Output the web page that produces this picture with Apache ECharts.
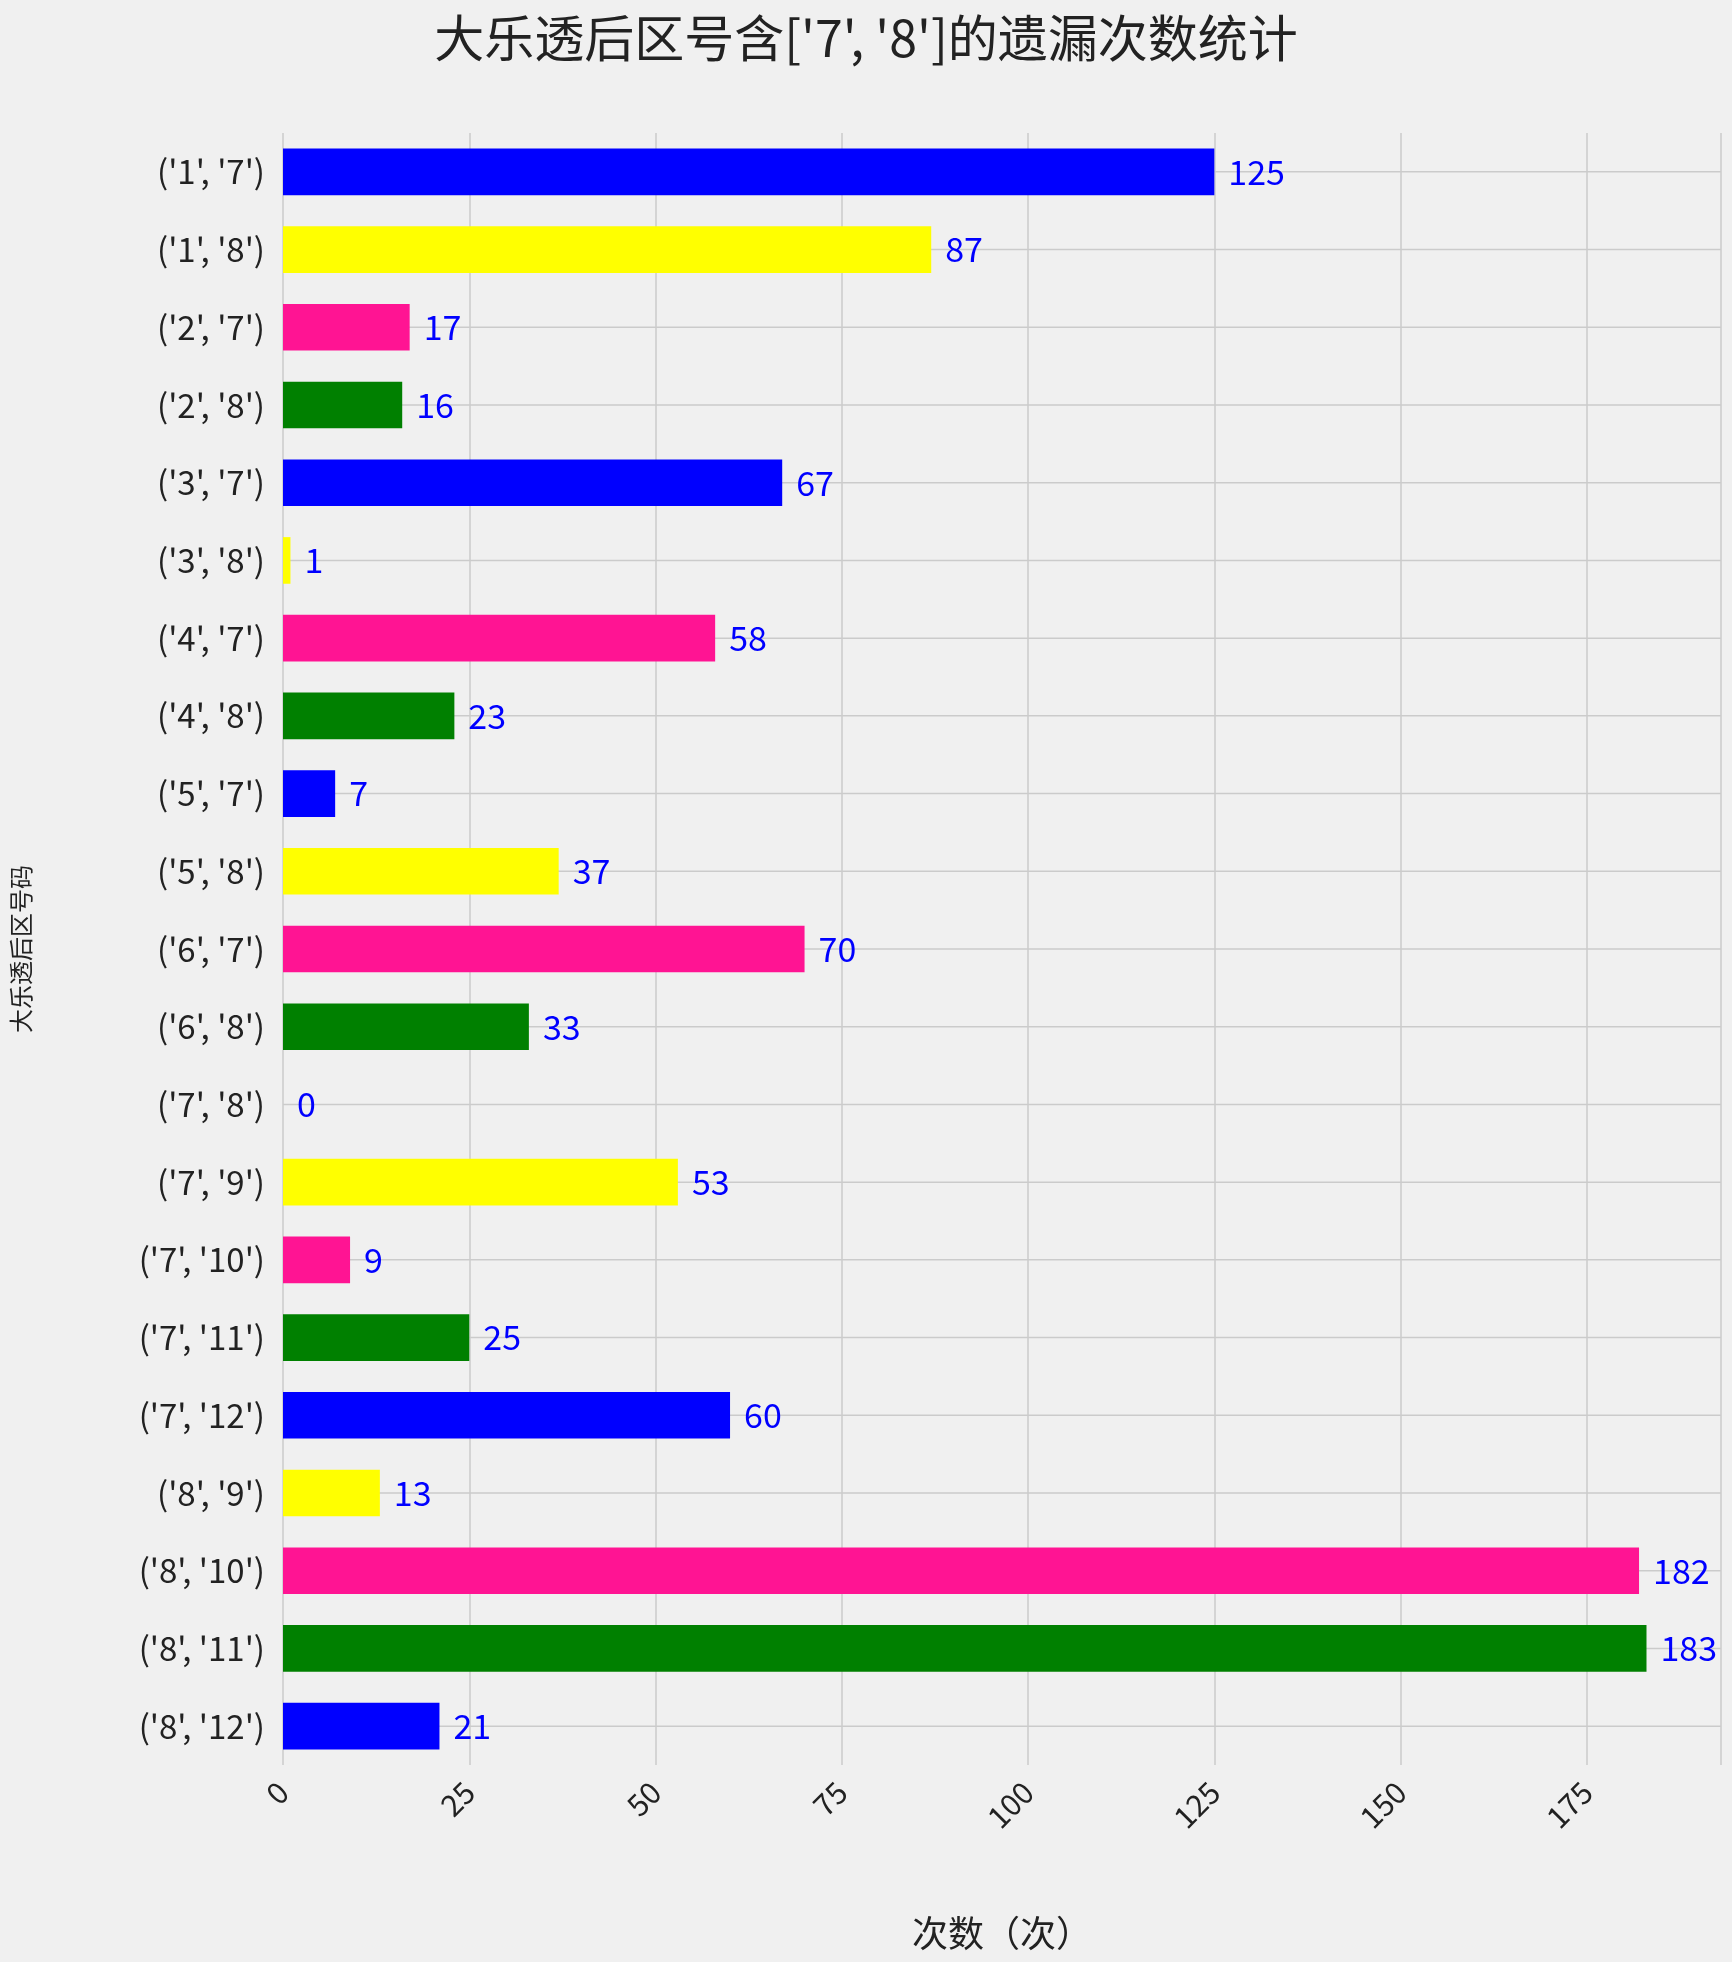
<!DOCTYPE html>
<html><head><meta charset="utf-8">
<script src="https://cdn.jsdelivr.net/npm/echarts@6/dist/echarts.min.js"></script>
<style>html,body{margin:0;padding:0;background:#f0f0f0}#c{width:1732px;height:1962px}</style>
</head><body><div id="c"></div>
<script>
const categories = ["('1', '7')","('1', '8')","('2', '7')","('2', '8')","('3', '7')","('3', '8')","('4', '7')","('4', '8')","('5', '7')","('5', '8')","('6', '7')","('6', '8')","('7', '8')","('7', '9')","('7', '10')","('7', '11')","('7', '12')","('8', '9')","('8', '10')","('8', '11')","('8', '12')"];
const values = [125,87,17,16,67,1,58,23,7,37,70,33,0,53,9,25,60,13,182,183,21];
const palette = ['#0000ff','#ffff00','#ff1493','#008000'];
const xTicks = [0,25,50,75,100,125,150,175];
const font = '"Noto Sans CJK SC", sans-serif';
const chart = echarts.init(document.getElementById('c'));
chart.setOption({
  backgroundColor:'#f0f0f0',
  animation:false,
  title:{text:"大乐透后区号含['7', '8']的遗漏次数统计",left:'center',top:8,textStyle:{fontFamily:font,fontSize:50,fontWeight:'normal',color:'#222'}},
  grid:{left:283,right:11,top:133,bottom:197},
  xAxis:{type:'value',min:0,max:193,interval:25,
    axisLine:{show:false},axisTick:{show:false},
    splitLine:{lineStyle:{color:'#cbcbcb',width:1.5}},
    axisLabel:{rotate:45,fontFamily:font,fontSize:30,color:'#222',margin:22,
      formatter:v=>xTicks.includes(v)?String(v):''},
    name:'次数（次）',nameLocation:'middle',nameGap:150,
    nameTextStyle:{fontFamily:font,fontSize:36,color:'#222'}},
  yAxis:{type:'category',data:categories,inverse:true,
    axisLine:{show:false},axisTick:{show:false},
    splitLine:{show:false},
    axisLabel:{fontFamily:font,fontSize:33,color:'#222',margin:18},
    name:'大乐透后区号码',nameLocation:'middle',nameGap:250,
    nameTextStyle:{fontFamily:font,fontSize:24,color:'#222'}},
  series:[
    {type:'line',data:categories.map(()=>null),silent:true},
    {type:'bar',barWidth:'60%',
    data:values.map((v,i)=>({value:v,itemStyle:{color:palette[i%4]}})),
    label:{show:true,position:'right',distance:14,color:'#0000ff',fontFamily:font,fontSize:34}}
  ],
  graphic: categories.map((c,i)=>({type:'line',silent:true,z:-1,
    shape:{x1:283,x2:1721,y1:0,y2:0},style:{stroke:'#cbcbcb',lineWidth:1.5},id:'g'+i}))
});
// place horizontal grid lines at category centres
const opt = {graphic: categories.map((c,i)=>{const y=chart.convertToPixel({yAxisIndex:0},i);return {id:'g'+i,shape:{x1:283,x2:1721,y1:y,y2:y}};})};
chart.setOption(opt);
</script></body></html>
